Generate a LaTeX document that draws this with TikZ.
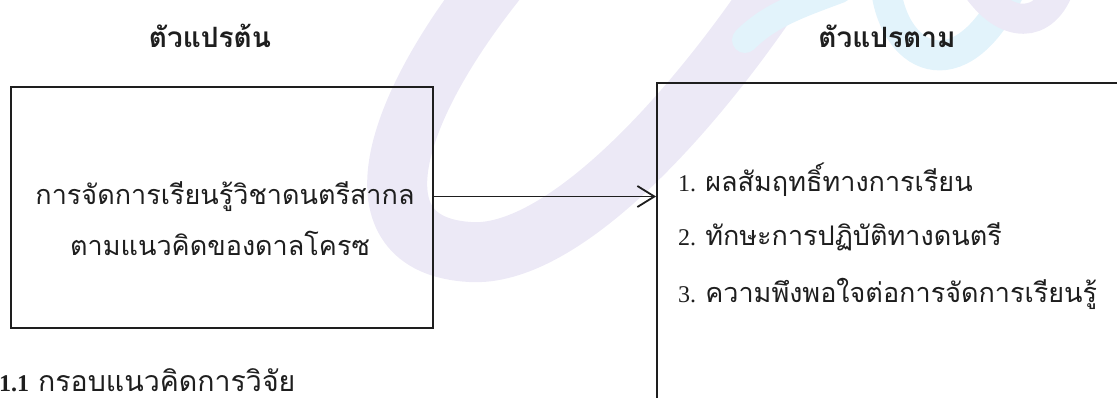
\documentclass[tikz,border=0pt]{standalone}
\usepackage{fontspec}
\setmainfont{Liberation Serif}
\newfontfamily\thai[Script=Thai]{Loma}
\usetikzlibrary{arrows.meta,positioning}

\definecolor{wmlav}{RGB}{236,233,246}
\definecolor{wmcyan}{RGB}{226,243,251}
\definecolor{ink}{RGB}{30,30,30}
\newcommand{\numfont}{\fontsize{24}{28}\selectfont}

\begin{document}
\begin{tikzpicture}[x=1pt,y=-1pt,
  varbox/.style={draw=ink,line width=1.8pt,inner sep=0pt},
  vartitle/.style={font=\thai\bfseries\fontsize{28}{32}\selectfont,text=ink},
  boxtext/.style={font=\thai\fontsize{27}{32}\selectfont,text=ink,inner sep=0pt},
  arr/.style={-{Straight Barb[length=17pt,width=21pt]},line width=1.8pt,draw=ink},
  wmark/.style={line width=60pt,line cap=round}
]
\useasboundingbox (0,0) rectangle (1117,397);
% Watermark behind the figure
\draw[wmark,wmlav] (505,-30) .. controls (390,110) and (350,245) .. (470,252)
  .. controls (560,258) and (690,120) .. (785,-25);
\draw[wmark,wmcyan,line width=26pt] (745,40) .. controls (770,15) and (800,5) .. (840,-10);
\draw[wmark,wmcyan,line width=30pt] (885,-20) .. controls (890,60) and (960,95) .. (1010,-10);
\draw[wmark,wmlav,line width=30pt] (975,-15) .. controls (1005,30) and (1045,30) .. (1060,-15);
% Titles
\node[vartitle] (indep) at (210,36) {ตัวแปรต้น};
\node[vartitle] (dept) at (887,36) {ตัวแปรตาม};
% Independent variable
\node[varbox,minimum width=422pt,minimum height=241pt] (src) at (222,207.5) {};
\node[boxtext] (srcA) at (225,197) {การจัดการเรียนรู้วิชาดนตรีสากล};
\node[boxtext] (srcB) at (220,243) {ตามแนวคิดของดาลโครซ};
% Dependent variables (box runs past the page)
\node[varbox,minimum width=480pt,minimum height=340pt] (dst) at (897,253) {};
\node[boxtext,anchor=west] (item1) at (678,180) {{\rmfamily\numfont 1.}~ผลสัมฤทธิ์ทางการเรียน};
\node[boxtext,anchor=west] (item2) at (678,237) {{\rmfamily\numfont 2.}~ทักษะการปฏิบัติทางดนตรี};
\node[boxtext,anchor=west] (item3) at (678,294) {{\rmfamily\numfont 3.}~ความพึงพอใจต่อการจัดการเรียนรู้};
% Arrow
\coordinate (tail) at ([yshift=11pt]src.east);
\draw[arr] (tail) -- (tail -| dst.west);
% Caption, at the foot of the page
\node[anchor=base west,inner sep=0pt,text depth=0pt,text=ink] (cap) at (-1,391)
  {{\rmfamily\bfseries\numfont 1.1}\hspace{9pt}{\thai\fontsize{28.5}{34}\selectfont กรอบแนวคิดการวิจัย}};
\end{tikzpicture}
\end{document}
